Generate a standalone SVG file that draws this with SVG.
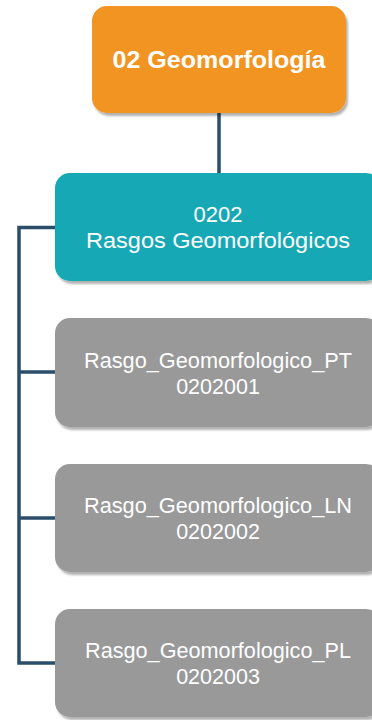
<svg xmlns="http://www.w3.org/2000/svg" width="372" height="720" viewBox="0 0 372 720">
  <style>
    .box { stroke: none; }
    .orange { fill: #F29422; }
    .teal { fill: #14A9B5; }
    .gray { fill: #999999; }
    .lbl { font-family: "Liberation Sans", Arial, sans-serif; fill: #ffffff; text-anchor: middle; }
    .title { font-size: 24px; font-weight: bold; }
    .sub { font-size: 22px; }
    .leaf { font-size: 21.5px; }
    .link { fill: none; stroke: #2A4D69; stroke-width: 3.5; stroke-linejoin: miter; }
  </style>
  <defs>
    <filter id="shadow" x="-10%" y="-10%" width="130%" height="130%">
      <feDropShadow dx="2" dy="3" stdDeviation="1.2" flood-color="#000000" flood-opacity="0.3"/>
    </filter>
  </defs>
  <rect width="372" height="720" fill="#ffffff"/>

  <!-- connectors -->
  <g id="connectors">
    <line class="link" x1="219" y1="112" x2="219" y2="175"/>
    <polyline class="link" points="56,227.5 19,227.5 19,663 56,663"/>
    <line class="link" x1="19" y1="372" x2="56" y2="372"/>
    <line class="link" x1="19" y1="518" x2="56" y2="518"/>
  </g>

  <!-- root node -->
  <g id="node-geomorfologia">
    <rect class="box orange" x="92" y="6" width="254" height="107" rx="15" filter="url(#shadow)"/>
    <text class="lbl title" x="219" y="68" textLength="213" lengthAdjust="spacingAndGlyphs">02 Geomorfología</text>
  </g>

  <!-- group node -->
  <g id="node-0202">
    <rect class="box teal" x="55" y="173" width="326" height="108" rx="15" filter="url(#shadow)"/>
    <text class="lbl sub" x="218" y="222">0202</text>
    <text class="lbl sub" x="218" y="248" textLength="264" lengthAdjust="spacingAndGlyphs">Rasgos Geomorfológicos</text>
  </g>

  <!-- leaf nodes -->
  <g id="node-0202001">
    <rect class="box gray" x="55" y="318" width="326" height="109" rx="15" filter="url(#shadow)"/>
    <text class="lbl leaf" x="218" y="368" textLength="268" lengthAdjust="spacingAndGlyphs">Rasgo_Geomorfologico_PT</text>
    <text class="lbl leaf" x="218" y="394">0202001</text>
  </g>

  <g id="node-0202002">
    <rect class="box gray" x="55" y="464" width="326" height="108" rx="15" filter="url(#shadow)"/>
    <text class="lbl leaf" x="218" y="513" textLength="268" lengthAdjust="spacingAndGlyphs">Rasgo_Geomorfologico_LN</text>
    <text class="lbl leaf" x="218" y="539">0202002</text>
  </g>

  <g id="node-0202003">
    <rect class="box gray" x="55" y="609" width="326" height="108" rx="15" filter="url(#shadow)"/>
    <text class="lbl leaf" x="218" y="658" textLength="266" lengthAdjust="spacingAndGlyphs">Rasgo_Geomorfologico_PL</text>
    <text class="lbl leaf" x="218" y="684">0202003</text>
  </g>
</svg>
